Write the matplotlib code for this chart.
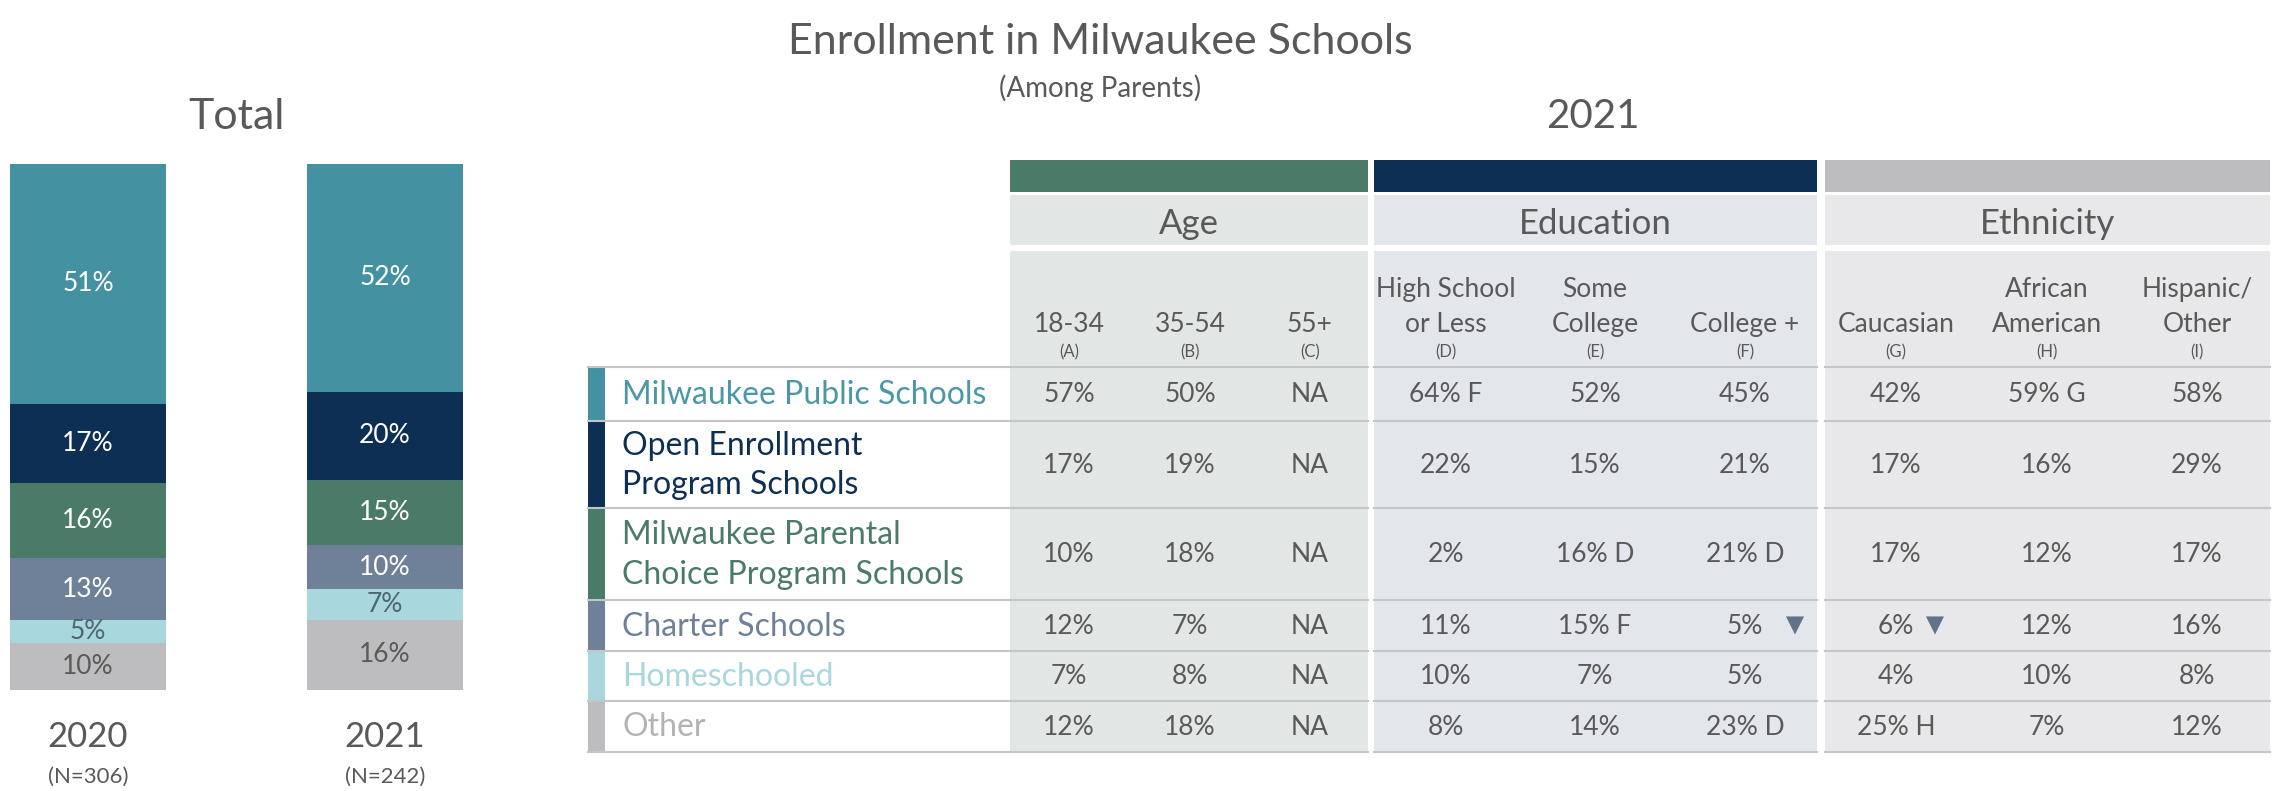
import matplotlib.pyplot as plt
from matplotlib.patches import Rectangle

plt.rcParams['font.family'] = ['Lato', 'DejaVu Sans']

W, H = 2277, 791

categories = ["Milwaukee Public Schools", "Open Enrollment\nProgram Schools",
              "Milwaukee Parental\nChoice Program Schools", "Charter Schools",
              "Homeschooled", "Other"]
years = ["2020", "2021"]
sample_sizes = ["(N=306)", "(N=242)"]
total_2020 = [51, 17, 16, 13, 5, 10]
total_2021 = [52, 20, 15, 10, 7, 16]

groups = ["Age", "Education", "Ethnicity"]
sub_labels = ["18-34", "35-54", "55+", "High School\nor Less", "Some\nCollege",
              "College +", "Caucasian", "African\nAmerican", "Hispanic/\nOther"]
sub_codes = ["(A)", "(B)", "(C)", "(D)", "(E)", "(F)", "(G)", "(H)", "(I)"]

# table rows (None = NA)
mps = [57, 50, None, 64, 52, 45, 42, 59, 58]
open_enroll = [17, 19, None, 22, 15, 21, 17, 16, 29]
parental = [10, 18, None, 2, 16, 21, 17, 12, 17]
charter = [12, 7, None, 11, 15, 5, 6, 12, 16]
homeschool = [7, 8, None, 10, 7, 5, 4, 10, 8]
other = [12, 18, None, 8, 14, 23, 25, 7, 12]
table_rows = [mps, open_enroll, parental, charter, homeschool, other]

# significance letters per row
mps_sig = ["", "", "", "F", "", "", "", "G", ""]
open_sig = [""] * 9
parental_sig = ["", "", "", "", "D", "D", "", "", ""]
charter_sig = ["", "", "", "", "F", "", "", "", ""]
home_sig = [""] * 9
other_sig = ["", "", "", "", "", "D", "H", "", ""]
sig_rows = [mps_sig, open_sig, parental_sig, charter_sig, home_sig, other_sig]
# significantly lower than total (row 'Charter Schools')
charter_low = [False, False, False, False, False, True, True, False, False]
low_offset = [0, 0, 0, 0, 0, 50, 39, 0, 0]

# colors
seg_colors = ["#4491a1", "#0c2f53", "#4a7a68", "#6e8199", "#a8d7dd", "#bdbdbf"]
seg_text = ["white", "white", "white", "white", "#4f6573", "#5a5a5a"]
row_text = ["#4a98a6", "#0c2f53", "#4a7a68", "#6e8199", "#a8d7dd", "#b3b3b5"]
head_colors = ["#4a7a68", "#0c2f53", "#bdbdbf"]
block_bg = ["#e2e6e4", "#e3e6eb", "#e8e8ea"]
grey = "#595959"

fig = plt.figure(figsize=(W / 100, H / 100), dpi=100)

# ---- stacked bars (Total) ----
bx = fig.add_axes([10 / W, (H - 690) / H, 453 / W, 526 / H])
for i, vals in enumerate([total_2020, total_2021]):
    s = sum(vals)
    bottom = 100
    for v, c, tc in zip(vals, seg_colors, seg_text):
        h = v / s * 100
        bottom -= h
        bx.bar(i, h, bottom=bottom, width=0.524, color=c, edgecolor='none')
        bx.text(i, bottom + h / 2, f"{v}%", ha='center', va='center',
                fontsize=19, color=tc)
    bx.text(i, -9, years[i], ha='center', va='center', fontsize=25, color=grey,
            clip_on=False)
    bx.text(i, -16.5, sample_sizes[i], ha='center', va='center', fontsize=16,
            color=grey, clip_on=False)
bx.text(0.5, 109, "Total", ha='center', va='center', fontsize=31, color=grey,
        clip_on=False)
bx.set_xlim(-0.262, 1.262)
bx.set_ylim(0, 100)
bx.axis('off')

# ---- table ----
ax = fig.add_axes([0, 0, 1, 1])
ax.set_xlim(0, W)
ax.set_ylim(H, 0)
ax.axis('off')

ax.text(1100, 42, "Enrollment in Milwaukee Schools", ha='center', va='center',
        fontsize=31, color=grey)
ax.text(1100, 88, "(Among Parents)", ha='center', va='center', fontsize=20,
        color=grey)
ax.text(1593, 116, "2021", ha='center', va='center', fontsize=29, color=grey)

col_x = [1069, 1190, 1310, 1446, 1595, 1745, 1896, 2047, 2197]
block_x = [(1010, 1368), (1374, 1817), (1825, 2270)]
row_edges = [367, 421, 508, 600, 651, 701, 752]

for (x0, x1), hc, bg, g in zip(block_x, head_colors, block_bg, groups):
    ax.add_patch(Rectangle((x0, 160), x1 - x0, 32, color=hc, lw=0))
    ax.add_patch(Rectangle((x0, 195), x1 - x0, 50, color=bg, lw=0))
    ax.add_patch(Rectangle((x0, 251), x1 - x0, 752 - 251, color=bg, lw=0))
    ax.text((x0 + x1) / 2, 224, g, ha='center', va='center', fontsize=25,
            color=grey)

for x, lab, code in zip(col_x, sub_labels, sub_codes):
    ax.text(x, 337, lab, ha='center', va='bottom', fontsize=19, color=grey,
            linespacing=1.5)
    ax.text(x, 352, code, ha='center', va='center', fontsize=12, color=grey)

# row lines
for y in row_edges:
    ax.plot([588, 1368], [y, y], color="#c3c6c8", lw=1.5)
    ax.plot([1374, 1817], [y, y], color="#c3c6c8", lw=1.5)
    ax.plot([1825, 2270], [y, y], color="#c3c6c8", lw=1.5)

for r, (cat, vals, sigs) in enumerate(zip(categories, table_rows, sig_rows)):
    y0, y1 = row_edges[r], row_edges[r + 1]
    yc = (y0 + y1) / 2
    ax.add_patch(Rectangle((588, y0 + 1), 17, y1 - y0 - 2, color=seg_colors[r], lw=0))
    ax.text(622, yc + 1, cat, ha='left', va='center', fontsize=23,
            color=row_text[r], linespacing=1.4)
    for c, (v, sg) in enumerate(zip(vals, sigs)):
        txt = "NA" if v is None else f"{v}%" + (f" {sg}" if sg else "")
        ax.text(col_x[c], yc + 1, txt, ha='center', va='center', fontsize=19,
                color=grey)

charter_y = (row_edges[3] + row_edges[4]) / 2
for c, low in enumerate(charter_low):
    if low:
        ax.scatter(col_x[c] + low_offset[c], charter_y, marker='v', s=170,
                   color="#5f7489", edgecolors='none', zorder=5)

fig.savefig("out.png", dpi=100)
